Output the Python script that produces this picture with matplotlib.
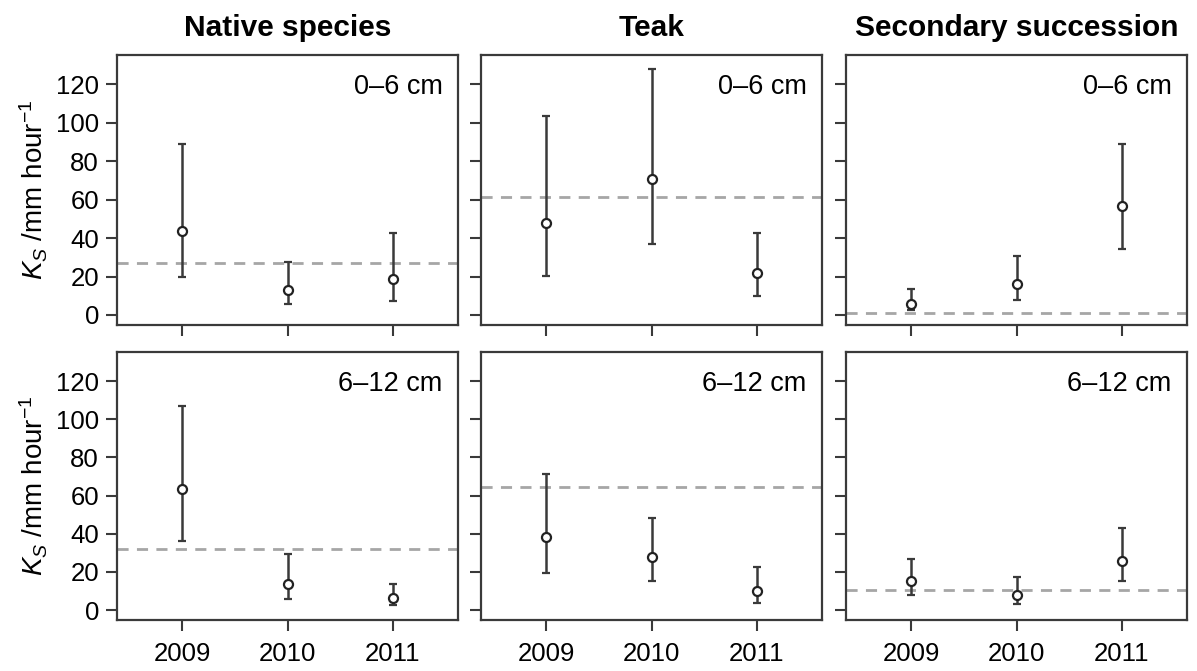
import matplotlib.pyplot as plt

plt.rcParams['font.family'] = ['Liberation Sans', 'DejaVu Sans']
plt.rcParams['mathtext.fontset'] = 'custom'
plt.rcParams['mathtext.rm'] = 'Liberation Sans'
plt.rcParams['mathtext.it'] = 'Liberation Sans:italic'

years = [2009, 2010, 2011]
stands = ["Native species", "Teak", "Secondary succession"]
depths = ["0\u20136 cm", "6\u201312 cm"]

# Ks medians and interval bounds, [depth][stand][year]
ks_mid = [
    [[43.8, 13.2, 18.6], [48.1, 70.9, 21.6], [5.7, 16.2, 56.6]],
    [[63.5, 13.4, 6.5], [38.1, 27.6, 9.9], [15.1, 7.8, 25.9]],
]
ks_low = [
    [[19.8, 5.6, 7.3], [20.2, 37.0, 9.9], [2.8, 8.0, 34.4]],
    [[36.4, 5.7, 2.6], [19.3, 15.1, 3.9], [7.8, 3.3, 15.0]],
]
ks_high = [
    [[88.9, 27.6, 42.9], [103.4, 128.0, 42.7], [13.4, 30.9, 89.1]],
    [[106.8, 29.4, 13.9], [71.2, 48.0, 22.6], [27.0, 17.4, 42.8]],
]
# reference level (dashed line)
ks_ref = [
    [27.1, 61.2, 1.0],
    [32.2, 64.5, 10.4],
]

W, H = 1197, 671
fig = plt.figure(figsize=(W / 100, H / 100), dpi=100)

col_left = [117, 481, 846]
col_w = 341
row_top = [55, 352]
row_h = [270, 268]

dark = '#3a3a3a'

for r in range(2):
    for c in range(3):
        x0 = col_left[c] / W
        y0 = 1 - (row_top[r] + row_h[r]) / H
        ax = fig.add_axes([x0, y0, col_w / W, row_h[r] / H])

        mid = ks_mid[r][c]
        lo = [m - l for m, l in zip(mid, ks_low[r][c])]
        hi = [h - m for m, h in zip(mid, ks_high[r][c])]

        ax.axhline(ks_ref[r][c], color='#a6a6a6', lw=2, ls=(0, (4, 3)), zorder=1)
        ax.errorbar(years, mid, yerr=[lo, hi], fmt='o', ms=6.5, mfc='white',
                    mec='#222222', mew=1.6, ecolor=dark, elinewidth=1.8,
                    capsize=3, capthick=2, zorder=3)

        ax.set_xlim(2008.38, 2011.62)
        ax.set_ylim(-5.2, 135.2)
        ax.set_yticks([0, 20, 40, 60, 80, 100, 120])
        ax.set_xticks(years)

        ax.tick_params(direction='out', length=8, width=1.5, color=dark,
                       labelsize=18.5, pad=5)
        ax.tick_params(axis='x', pad=8)
        for s in ax.spines.values():
            s.set_color(dark)
            s.set_linewidth(1.6)

        if c != 0:
            ax.tick_params(labelleft=False)
        else:
            ax.set_ylabel(r"$K_{S}$ /mm hour$^{-1}$", fontsize=20, labelpad=4)
        if r == 0:
            ax.tick_params(labelbottom=False)
            ax.set_title(stands[c], fontsize=21.5, fontweight='bold', pad=14)

        ax.text(0.955, 0.93, depths[r], transform=ax.transAxes, ha='right',
                va='top', fontsize=19.5)

fig.savefig('out.png', dpi=100)
